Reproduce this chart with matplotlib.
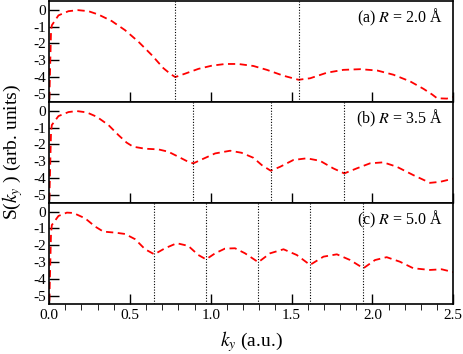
import numpy as np
import matplotlib
matplotlib.use("Agg")
import matplotlib.pyplot as plt

plt.rcParams["font.family"] = ["Liberation Serif", "DejaVu Serif"]
plt.rcParams["mathtext.fontset"] = "stix"
plt.rcParams["axes.unicode_minus"] = False

# (a) R = 2.0 A
k_a = [0.0, 0.012, 0.017, 0.058, 0.12, 0.18, 0.243, 0.305, 0.388, 0.47, 0.553,
       0.635, 0.707, 0.749, 0.78, 0.84, 0.924, 1.007, 1.09, 1.17, 1.264, 1.347,
       1.45, 1.543, 1.615, 1.718, 1.82, 1.925, 2.03, 2.13, 2.234, 2.316, 2.37,
       2.40, 2.46, 2.50]
s_a = [-6.0, -1.3, -0.92, -0.33, -0.08, -0.02, -0.08, -0.28, -0.67, -1.21, -1.90,
       -2.69, -3.47, -3.80, -4.00, -3.80, -3.51, -3.32, -3.22, -3.22, -3.34, -3.57,
       -3.92, -4.16, -4.07, -3.74, -3.57, -3.53, -3.61, -3.86, -4.26, -4.70, -5.04,
       -5.26, -5.28, -5.18]
min_a = [0.779, 1.543]

# (b) R = 3.5 A
k_b = [0.0, 0.012, 0.017, 0.058, 0.12, 0.171, 0.233, 0.295, 0.367, 0.429, 0.48,
       0.52, 0.594, 0.676, 0.738, 0.80, 0.861, 0.892, 0.944, 1.027, 1.12, 1.19,
       1.264, 1.315, 1.371, 1.43, 1.511, 1.594, 1.676, 1.758, 1.826, 1.903, 1.985,
       2.067, 2.15, 2.253, 2.356, 2.418, 2.50]
s_b = [-6.0, -1.3, -0.85, -0.32, -0.08, -0.02, -0.10, -0.36, -0.85, -1.45, -1.90,
       -2.14, -2.26, -2.30, -2.44, -2.74, -3.04, -3.13, -2.90, -2.54, -2.38, -2.50,
       -2.80, -3.23, -3.57, -3.33, -2.93, -2.83, -2.98, -3.43, -3.73, -3.43, -3.13,
       -3.07, -3.33, -3.83, -4.29, -4.23, -4.04]
min_b = [0.892, 1.371, 1.826]

# (c) R = 5.0 A
k_c = [0.0, 0.012, 0.017, 0.058, 0.11, 0.15, 0.223, 0.285, 0.336, 0.408, 0.47,
       0.532, 0.594, 0.651, 0.717, 0.79, 0.861, 0.923, 0.971, 1.027, 1.088, 1.15,
       1.212, 1.294, 1.367, 1.45, 1.532, 1.614, 1.697, 1.78, 1.862, 1.944, 2.016,
       2.088, 2.17, 2.253, 2.356, 2.428, 2.50]
s_c = [-6.0, -1.3, -0.80, -0.26, -0.06, -0.08, -0.40, -0.89, -1.19, -1.25, -1.33,
       -1.64, -2.24, -2.54, -2.18, -1.88, -2.04, -2.58, -2.84, -2.48, -2.20, -2.18,
       -2.48, -3.01, -2.48, -2.24, -2.58, -3.17, -2.68, -2.54, -2.88, -3.37, -2.88,
       -2.71, -2.98, -3.37, -3.47, -3.43, -3.60]
min_c = [0.651, 0.971, 1.294, 1.614, 1.944]

labels = ["(a) $R$ = 2.0 Å", "(b) $R$ = 3.5 Å", "(c) $R$ = 5.0 Å"]
panels = [(k_a, s_a, min_a), (k_b, s_b, min_b), (k_c, s_c, min_c)]

fig, axes = plt.subplots(3, 1, sharex=True, figsize=(4.63, 3.54), dpi=100)
fig.subplots_adjust(left=0.106, right=0.979, top=0.996, bottom=0.141, hspace=0)

for ax, (k, s, mins), lab in zip(axes, panels, labels):
    ax.plot(k, s, color="red", ls=(0, (4, 2.5)), lw=1.3)
    for m in mins:
        ax.axvline(m, color="black", ls=(0, (1, 1.5)), lw=0.8)
    ax.set_xlim(0, 2.5)
    ax.set_ylim(-5.5, 0.5)
    ax.set_yticks([0, -1, -2, -3, -4, -5])
    ax.set_yticklabels(["0", "-1", "-2", "-3", "-4", "-5"])
    ax.set_xticks(np.arange(0, 2.51, 0.5))
    ax.set_xticks(np.arange(0, 2.51, 0.1), minor=True)
    ax.tick_params(axis="both", direction="in", labelsize=11, width=1)
    ax.tick_params(axis="x", which="major", length=7)
    ax.tick_params(axis="x", which="minor", length=4)
    ax.tick_params(axis="y", length=7, pad=2)
    for sp in ax.spines.values():
        sp.set_linewidth(1.2)
    ax.text(0.975, 0.84, lab, transform=ax.transAxes, ha="right", va="center",
            fontsize=11.5)

axes[2].set_xticklabels(["0.0", "0.5", "1.0", "1.5", "2.0", "2.5"])
axes[2].set_xlabel("$k_y$ (a.u.)", fontsize=14, labelpad=5)
fig.text(0.028, 0.57, "S($k_y$ ) (arb. units)", rotation=90, ha="center",
         va="center", fontsize=14)

fig.savefig("out.png", dpi=100)
